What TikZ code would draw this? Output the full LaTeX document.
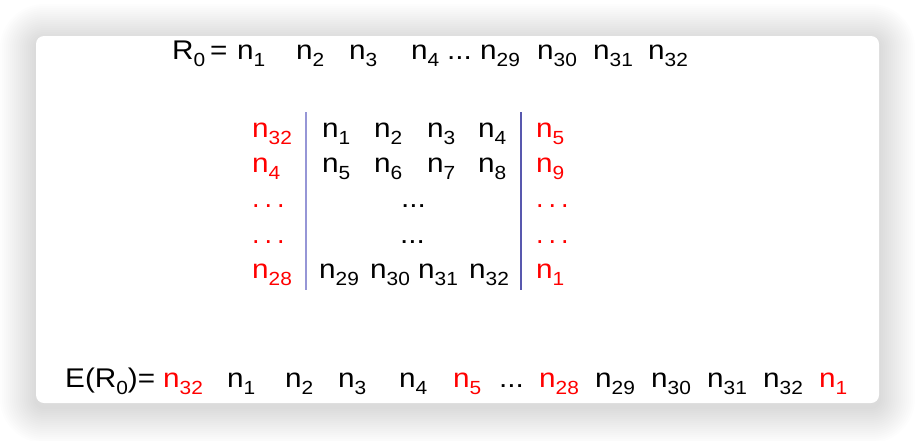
\documentclass[tikz,border=0pt]{standalone}
\usepackage{fontspec}
\setmainfont{Liberation Sans}
\usepackage{graphicx}
\usepackage{xcolor}
\usetikzlibrary{positioning}
\definecolor{sepLight}{HTML}{9696D6}
\definecolor{sepDark}{HTML}{5858AE}
\newcommand{\stretchx}[1]{\scalebox{1.1}[1]{#1}}
\newcommand{\sub}[1]{\raisebox{-7pt}{\fontsize{19}{19}\selectfont #1}}
\newcommand{\nsub}[1]{\stretchx{n\sub{#1}}}
\newcommand{\rdots}{.\hspace{5pt}.\hspace{5pt}.}

\begin{document}
\begin{tikzpicture}[
    x=1pt, y=-1pt,
    item/.style={anchor=base west, inner sep=0pt, font=\fontsize{27}{30}\selectfont},
    hot/.style={item, text=red},
    sepline/.style={draw=#1, line width=2.2pt}
]

% page and card
\clip (0,0) rectangle (916,440);
\fill[white] (0,0) rectangle (916,440);
\foreach \r in {2,4,...,36}
    \fill[black, opacity=0.009, rounded corners=8+\r] (36-\r,40-\r) rectangle (879+\r,407+\r);
\fill[white, rounded corners=8] (36,36) rectangle (879,403);

% R_0
\node[item] (rlab) at (172,59) {\stretchx{R\sub{0}\,=}};
\node[item] (t1) at (237,59) {\nsub{1}};
\node[item] (t2) at (296,59) {\nsub{2}};
\node[item] (t3) at (349,59) {\nsub{3}};
\node[item] (t4) at (411,59) {\nsub{4}};
\node[item] (tdots) at (447,59) {\stretchx{...}};
\node[item] (t29) at (480,59) {\nsub{29}};
\node[item] (t30) at (537,59) {\nsub{30}};
\node[item] (t31) at (593,59) {\nsub{31}};
\node[item] (t32) at (648,59) {\nsub{32}};

% table: left column
\node[hot] (l1) at (252,137) {\nsub{32}};
\node[hot] (l2) at (252,172) {\nsub{4}};
\node[hot] (l3) at (252,207) {\rdots};
\node[hot] (l4) at (252,243) {\rdots};
\node[hot] (l5) at (252,278) {\nsub{28}};

% table: middle
\node[item] (m11) at (322,137) {\nsub{1}};
\node[item] (m12) at (374,137) {\nsub{2}};
\node[item] (m13) at (427,137) {\nsub{3}};
\node[item] (m14) at (478,137) {\nsub{4}};
\node[item] (m21) at (322,172) {\nsub{5}};
\node[item] (m22) at (374,172) {\nsub{6}};
\node[item] (m23) at (427,172) {\nsub{7}};
\node[item] (m24) at (478,172) {\nsub{8}};
\node[item] (m3) at (401,207) {\stretchx{...}};
\node[item] (m4) at (400,243) {\stretchx{...}};
\node[item] (m51) at (319,278) {\nsub{29}};
\node[item] (m52) at (370,278) {\nsub{30}};
\node[item] (m53) at (418,278) {\nsub{31}};
\node[item] (m54) at (469,278) {\nsub{32}};

% table: right column
\node[hot] (c1) at (536,137) {\nsub{5}};
\node[hot] (c2) at (536,172) {\nsub{9}};
\node[hot] (c3) at (536,207) {\rdots};
\node[hot] (c4) at (536,243) {\rdots};
\node[hot] (c5) at (536,278) {\nsub{1}};

% separators
\coordinate (sepAtop) at (306,112);
\coordinate (sepAbot) at (306,290);
\coordinate (sepBtop) at (521,112);
\coordinate (sepBbot) at (521,290);
\draw[sepline=sepLight] (sepAtop) -- (sepAbot);
\draw[sepline=sepDark, line width=2.8pt] (sepBtop) -- (sepBbot);

% E(R_0)
\node[item] (elab) at (65,387) {\stretchx{E(R\sub{0})=}};
\node[hot] (b32a) at (163,387) {\nsub{32}};
\node[item] (b1) at (227,387) {\nsub{1}};
\node[item] (b2) at (285,387) {\nsub{2}};
\node[item] (b3) at (338,387) {\nsub{3}};
\node[item] (b4) at (399,387) {\nsub{4}};
\node[hot] (b5) at (453,387) {\nsub{5}};
\node[item] (bdots) at (499,387) {\stretchx{...}};
\node[hot] (b28) at (539,387) {\nsub{28}};
\node[item] (b29) at (595,387) {\nsub{29}};
\node[item] (b30) at (651,387) {\nsub{30}};
\node[item] (b31) at (707,387) {\nsub{31}};
\node[item] (b32) at (763,387) {\nsub{32}};
\node[hot] (b1r) at (819,387) {\nsub{1}};

\end{tikzpicture}
\end{document}
